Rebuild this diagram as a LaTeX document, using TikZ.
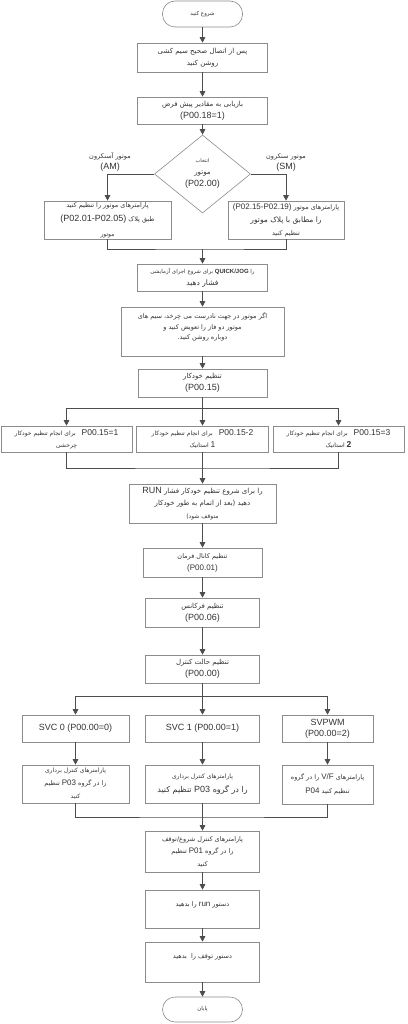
\documentclass[tikz,border=0pt]{standalone}
\usepackage{fontspec}
\setmainfont{Liberation Sans}
\newfontfamily\fa[Script=Arabic]{DejaVu Sans}
\newfontfamily\la{Liberation Sans}
\TeXXeTstate=1
\usetikzlibrary{arrows.meta,shapes.geometric}
\definecolor{boxc}{HTML}{8C8C8C}
\definecolor{linec}{HTML}{4D4D4D}
\definecolor{txtc}{HTML}{333333}
\newcommand\fsz[2]{\fontsize{#1}{#2}\selectfont}
\newcommand\myR[1]{\beginR #1\endR}
\newcommand\myL[2][9]{\beginL{\la\fontsize{#1}{#1}\selectfont #2}\endL}
\begin{document}
\begin{tikzpicture}[x=1pt,y=-1pt,
  box/.style={draw=boxc, line width=0.6pt, inner sep=1pt, align=center, text=txtc, font=\fa\fsz{7}{12}},
  sz/.style 2 args={minimum width=#1pt, minimum height=#2pt},
  term/.style={box, rounded corners=12.5pt},
  dia/.style={box, shape=diamond, inner sep=0pt, aspect=1.23, minimum width=96pt, minimum height=78pt},
  txt/.style={align=center, text=txtc, inner sep=0pt, font=\fa\fsz{7}{12}},
  conn/.style={draw=linec, line width=0.7pt},
  arr/.style={conn, -{Triangle[width=5.5pt,length=5.5pt]}}]
\useasboundingbox (0,0) rectangle (407,1024);
% main column
\node[term, sz={80}{26}, font=\fa\fsz{5.5}{7}] (start) at (202.5,14) {\myR{شروع کنید}};
\node[box, sz={130}{29}] (b1) at (202.5,57.5) {\myR{پس از اتصال صحیح سیم کشی}\\\myR{روشن کنید}};
\node[box, sz={130}{27}] (b2) at (202.5,110.5) {\myR{بازیابی به مقادیر پیش فرض}\\\myL{(P00.18=1)}};
\node[dia] (dia) at (202.5,174) {{\fsz{5}{8}\myR{انتخاب}}\\\myR{موتور}\\\myL{(P02.00)}};
\node[txt, font=\fa\fsz{6.5}{11}] (amlab) at (110,162) {\myR{موتور آسنکرون}\\\myL{(AM)}};
\node[txt, font=\fa\fsz{6.5}{11}] (smlab) at (286,162) {\myR{موتور سنکرون}\\\myL{(SM)}};
\node[box, sz={127}{38}, font=\fa\fsz{6.5}{14.5}] (L1) at (107.5,220) {\myR{پارامترهای موتور را تنظیم کنید}\\\myL{(P02.01-P02.05)} \myR{طبق پلاک}\\{\fsz{6}{14.5}\myR{موتور}}};
\node[box, sz={116}{38}, font=\fa\fsz{6.5}{13}] (R1) at (286,220) {\myL[8]{(P02.15-P02.19)} \myR{پارامترهای موتور}\\{\fsz{7.5}{13}\myR{را مطابق با پلاک موتور}}\\\myR{تنظیم کنید}};
\coordinate (m1) at (202.5,249);
\node[box, sz={130}{27}, font=\fa\fsz{5.5}{12}] (b3) at (202.5,277.5) {\myR{برای شروع اجرای آزمایشی} \myL[6]{\bfseries QUICK/JOG} \myR{را}\\{\fsz{7.5}{12}\myR{فشار دهید}}};
\node[box, sz={163}{49}] (b4) at (202.5,331.5) {};
\node[txt, font=\fa\fsz{6.5}{10.5}] (b4t) at (202.5,327) {\myR{اگر موتور در جهت نادرست می چرخد، سیم های}\\\myR{موتور دو فاز را تعویض کنید و}\\\myR{دوباره روشن کنید.}};
\node[box, sz={129}{28}] (b5) at (202.5,383) {\myR{تنظیم خودکار}\\\myL{(P00.15)}};
\coordinate (m2) at (202.5,408);
\node[box, sz={131}{26}, font=\fa\fsz{6}{12}] (c1) at (66.5,439) {\myR{برای انجام تنظیم خودکار}\quad\myL[8.5]{P00.15=1}\\\myR{چرخشی}};
\node[box, sz={132}{26}, font=\fa\fsz{6}{12}] (c2) at (202.5,439) {\myR{برای انجام تنظیم خودکار}\quad\myL[8.5]{P00.15-2}\\\myR{استاتیک} \myL[8.5]{1}};
\node[box, sz={131}{26}, font=\fa\fsz{6}{12}] (c3) at (338.5,439) {\myR{برای انجام تنظیم خودکار}\quad\myL[8.5]{P00.15=3}\\\myR{استاتیک} \myL[8.5]{\bfseries 2}};
\coordinate (m3) at (202.5,468);
\node[box, sz={147}{39}, font=\fa\fsz{7}{12.5}] (run) at (202.5,503.5) {\myL{RUN} \myR{را برای شروع تنظیم خودکار فشار}\\\myR{دهید (بعد از اتمام به طور خودکار}\\{\fsz{6}{12.5}\myR{متوقف شود)}}};
\node[box, sz={119}{29}, font=\fa\fsz{6.5}{12}] (d1) at (202.5,562.5) {\myR{تنظیم کانال فرمان}\\\myL[8]{(P00.01)}};
\node[box, sz={114}{29}] (d2) at (202.5,612.5) {\myR{تنظیم فرکانس}\\\myL{(P00.06)}};
\node[box, sz={114}{28}] (d3) at (202.5,669) {\myR{تنظیم حالت کنترل}\\\myL{(P00.00)}};
\coordinate (m4) at (202.5,696);
\node[box, sz={107}{27}] (e1) at (75.5,728.5) {\myL{SVC 0 (P00.00=0)}};
\node[box, sz={114}{27}] (e2) at (202.5,728.5) {\myL{SVC 1 (P00.00=1)}};
\node[box, sz={91}{27}, font=\la\fsz{9}{11}] (e3) at (327.5,728.5) {SVPWM\\(P00.00=2)};
\node[box, sz={107}{38}, font=\fa\fsz{6}{13}] (f1) at (75.5,784) {\myR{پارامترهای کنترل برداری}\\{\fsz{6.5}{13}\myR{را در گروه \myL[8]{P03} تنظیم}}\\\myR{کنید}};
\node[box, sz={114}{38}, font=\fa\fsz{6}{14}] (f2) at (202.5,784) {\myR{پارامترهای کنترل برداری}\\{\fsz{8}{14}\myR{را در گروه \myL[9]{P03} تنظیم کنید}}};
\node[box, sz={91}{39}, font=\fa\fsz{6.5}{14}] (f3) at (327.5,784.5) {\myR{پارامترهای \myL[8]{V/F} را در گروه}\\\myL[8]{P04} \myR{تنظیم کنید}};
\coordinate (m5) at (202.5,817);
\node[box, sz={114}{41}, font=\fa\fsz{6.5}{12.5}] (g1) at (202.5,851.5) {\myR{پارامترهای کنترل شروع/توقف}\\\myR{را در گروه \myL[8]{P01} تنظیم}\\\myR{کنید}};
\node[box, sz={114}{38}] (g2) at (202.5,909) {};
\node[txt, font=\fa\fsz{6.5}{12}] (g2t) at (202.5,905) {\myR{دستور \myL[8]{run} را بدهید}};
\node[box, sz={114}{40}] (g3) at (202.5,962) {};
\node[txt, font=\fa\fsz{6.5}{12}] (g3t) at (202.5,957) {\myR{دستور توقف را\ \ بدهید}};
\node[term, sz={80}{25}, font=\fa\fsz{5.5}{7}] (end) at (202.5,1009.5) {\myR{پایان}};
% connectors
\draw[arr] (start) -- (b1);
\draw[arr] (b1) -- (b2);
\draw[arr] (b2) -- (dia);
\draw[arr] (dia.west) -| (L1.north);
\draw[arr] (dia.east) -| (R1.north);
\draw[conn] (L1.south) |- (m1) -| (R1.south);
\draw[arr] (m1) -- (b3);
\draw[arr] (b3) -- (b4);
\draw[arr] (b4) -- (b5);
\draw[conn] (b5) -- (m2);
\draw[arr] (m2) -| (c1.north);
\draw[arr] (m2) -| (c3.north);
\draw[arr] (m2) -- (c2);
\draw[conn] (c1.south) |- (m3) -| (c3.south);
\draw[arr] (c2) -- (run);
\draw[arr] (run) -- (d1);
\draw[arr] (d1) -- (d2);
\draw[arr] (d2) -- (d3);
\draw[conn] (d3) -- (m4);
\draw[arr] (m4) -| (e1.north);
\draw[arr] (m4) -| (e3.north);
\draw[arr] (m4) -- (e2);
\draw[arr] (e1) -- (f1);
\draw[arr] (e2) -- (f2);
\draw[arr] (e3) -- (f3);
\draw[conn] (f1.south) |- (m5) -| (f3.south);
\draw[conn] (f2) -- (m5);
\draw[arr] (m5) -- (g1);
\draw[arr] (g1) -- (g2);
\draw[arr] (g2) -- (g3);
\draw[arr] (g3) -- (end);
\end{tikzpicture}
\end{document}
